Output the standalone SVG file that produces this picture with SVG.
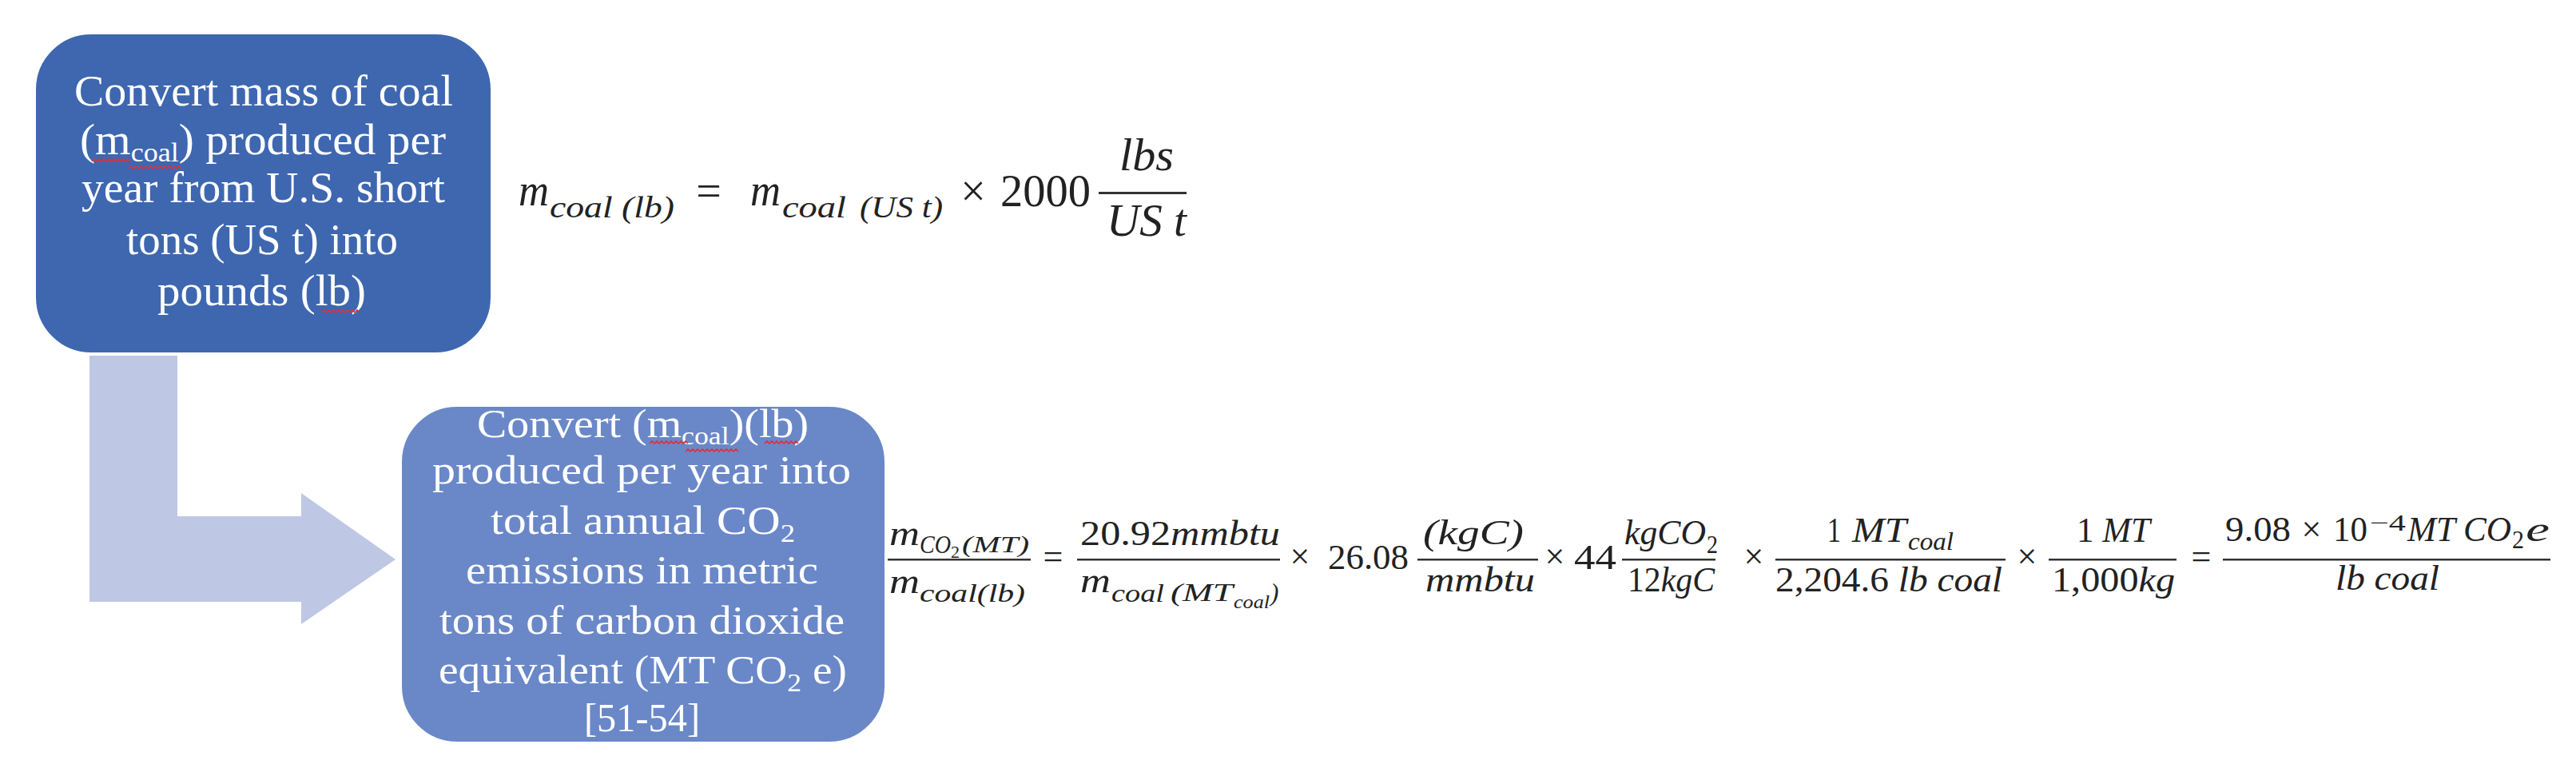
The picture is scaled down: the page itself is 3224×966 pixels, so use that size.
<svg xmlns="http://www.w3.org/2000/svg" width="3224" height="966" viewBox="0 0 3224 966">
<defs>
<style>
.bg{fill:#ffffff}
.box1{fill:#3E67B0;stroke:#ffffff;stroke-width:2}
.box2{fill:#6A88C8;stroke:#ffffff;stroke-width:2}
.arr{fill:#BEC8E4}
.bt{font-family:"Liberation Serif","Times New Roman",serif;fill:#ffffff}
.b1{font-size:54px}
.b2{font-size:50px}
.sq{fill:none;stroke:#E0303A;stroke-width:1.6}
.mi{font-family:"Liberation Serif","Times New Roman",serif;font-style:italic;fill:#222222}
.mu{font-family:"Liberation Serif","Times New Roman",serif;fill:#222222}
.bar{fill:#333333}
</style>
</defs>
<rect class="bg" x="0" y="0" width="3224" height="966"/>

<g id="connectors">
<polygon class="arr" points="112,445 222,445 222,646 377,646 377,617 495,700 377,781 377,753 112,753"/>
</g>

<g id="node1">
<rect class="box1" x="44" y="42" width="571" height="400" rx="70" ry="70"/>
<text class="bt b1" x="93" y="132" textLength="474" lengthAdjust="spacingAndGlyphs">Convert mass of coal</text>
<text class="bt b1" x="100" y="193" textLength="458" lengthAdjust="spacingAndGlyphs">(m<tspan font-size="34" dy="9">coal</tspan><tspan dy="-9">) produced per</tspan></text>
<text class="bt b1" x="102" y="253" textLength="455" lengthAdjust="spacingAndGlyphs">year from U.S. short</text>
<text class="bt b1" x="158" y="318" textLength="340" lengthAdjust="spacingAndGlyphs">tons (US t) into</text>
<text class="bt b1" x="197" y="382" textLength="261" lengthAdjust="spacingAndGlyphs">pounds (lb)</text>
<path class="sq" d="M115,202 l3,-3 3,3 3,-3 3,3 3,-3 3,3 3,-3 3,3 3,-3 3,3 3,-3 3,3 3,-3 3,3 3,-3 3,3"/>
<path class="sq" d="M161,211 l3,-3 3,3 3,-3 3,3 3,-3 3,3 3,-3 3,3 3,-3 3,3 3,-3 3,3 3,-3 3,3 3,-3 3,3 3,-3 3,3 3,-3 3,3 3,-3 3,3"/>
<path class="sq" d="M402,391 l3,-3 3,3 3,-3 3,3 3,-3 3,3 3,-3 3,3 3,-3 3,3 3,-3 3,3 3,-3 3,3 3,-3 3,3"/>
</g>

<g id="node2">
<rect class="box2" x="502" y="508" width="606" height="421" rx="70" ry="70"/>
<text class="bt b2" x="597" y="547" textLength="415" lengthAdjust="spacingAndGlyphs">Convert (m<tspan font-size="32" dy="9">coal</tspan><tspan dy="-9">)(lb)</tspan></text>
<text class="bt b2" x="541" y="605" textLength="524" lengthAdjust="spacingAndGlyphs">produced per year into</text>
<text class="bt b2" x="614" y="668" textLength="381" lengthAdjust="spacingAndGlyphs">total annual CO<tspan font-size="32" dy="10">2</tspan></text>
<text class="bt b2" x="583" y="730" textLength="441" lengthAdjust="spacingAndGlyphs">emissions in metric</text>
<text class="bt b2" x="550" y="793" textLength="507" lengthAdjust="spacingAndGlyphs">tons of carbon dioxide</text>
<text class="bt b2" x="549" y="855" textLength="511" lengthAdjust="spacingAndGlyphs">equivalent (MT CO<tspan font-size="32" dy="10">2</tspan><tspan dy="-10"> e)</tspan></text>
<text class="bt b2" x="731" y="915" textLength="145" lengthAdjust="spacingAndGlyphs">[51-54]</text>
<path class="sq" d="M813,555 l3,-3 3,3 3,-3 3,3 3,-3 3,3 3,-3 3,3 3,-3 3,3 3,-3 3,3 3,-3 3,3 3,-3 3,3"/>
<path class="sq" d="M858,565 l3,-3 3,3 3,-3 3,3 3,-3 3,3 3,-3 3,3 3,-3 3,3 3,-3 3,3 3,-3 3,3 3,-3 3,3 3,-3 3,3 3,-3 3,3 3,-3 3,3"/>
<path class="sq" d="M957,555 l3,-3 3,3 3,-3 3,3 3,-3 3,3 3,-3 3,3 3,-3 3,3 3,-3 3,3 3,-3 3,3"/>
</g>

<g id="formula1">
<text class="mi" x="649" y="257" font-size="56" textLength="38" lengthAdjust="spacingAndGlyphs">m</text>
<text class="mi" x="688" y="272" font-size="38" textLength="156" lengthAdjust="spacingAndGlyphs">coal (lb)</text>
<text class="mu" x="887" y="258" font-size="56" text-anchor="middle">=</text>
<text class="mi" x="939" y="257" font-size="56" textLength="38" lengthAdjust="spacingAndGlyphs">m</text>
<text class="mi" x="979" y="272" font-size="38" textLength="80" lengthAdjust="spacingAndGlyphs">coal</text>
<text class="mi" x="1076" y="272" font-size="38" textLength="104" lengthAdjust="spacingAndGlyphs">(US t)</text>
<text class="mu" x="1218" y="258" font-size="56" text-anchor="middle">×</text>
<text class="mu" x="1252" y="258" font-size="56" textLength="113" lengthAdjust="spacingAndGlyphs">2000</text>
<rect class="bar" x="1375" y="240" width="110" height="3"/>
<text class="mi" x="1401" y="213" font-size="56" textLength="68" lengthAdjust="spacingAndGlyphs">lbs</text>
<text class="mi" x="1385" y="295" font-size="56" textLength="100" lengthAdjust="spacingAndGlyphs">US t</text>
</g>

<g id="formula2">
<!-- fraction 1 -->
<text class="mi" x="1113" y="682" font-size="44" textLength="38" lengthAdjust="spacingAndGlyphs">m</text>
<text class="mi" x="1151" y="692" font-size="31" textLength="39" lengthAdjust="spacingAndGlyphs">CO</text>
<text class="mu" x="1190" y="698" font-size="22" textLength="11" lengthAdjust="spacingAndGlyphs">2</text>
<text class="mi" x="1204" y="691" font-size="29" textLength="84" lengthAdjust="spacingAndGlyphs">(MT)</text>
<rect class="bar" x="1111" y="699" width="179" height="2.5"/>
<text class="mi" x="1113" y="742" font-size="44" textLength="38" lengthAdjust="spacingAndGlyphs">m</text>
<text class="mi" x="1151" y="753" font-size="31" textLength="132" lengthAdjust="spacingAndGlyphs">coal(lb)</text>
<text class="mu" x="1318" y="711" font-size="44" text-anchor="middle">=</text>
<!-- fraction 2 -->
<text class="mi" x="1352" y="682" font-size="44" textLength="250" lengthAdjust="spacingAndGlyphs"><tspan font-style="normal">20.92</tspan>mmbtu</text>
<rect class="bar" x="1348" y="699" width="254" height="2.5"/>
<text class="mi" x="1352" y="741" font-size="44" textLength="38" lengthAdjust="spacingAndGlyphs">m</text>
<text class="mi" x="1391" y="753" font-size="31" textLength="66" lengthAdjust="spacingAndGlyphs">coal</text>
<text class="mi" x="1465" y="752" font-size="31" textLength="78" lengthAdjust="spacingAndGlyphs">(MT</text>
<text class="mi" x="1544" y="761" font-size="23" textLength="45" lengthAdjust="spacingAndGlyphs">coal</text>
<text class="mi" x="1590" y="752" font-size="31">)</text>
<text class="mu" x="1627" y="711" font-size="44" text-anchor="middle">×</text>
<text class="mu" x="1662" y="712" font-size="44" textLength="101" lengthAdjust="spacingAndGlyphs">26.08</text>
<!-- fraction 3 -->
<text class="mi" x="1781" y="681" font-size="44" textLength="126" lengthAdjust="spacingAndGlyphs">(kgC)</text>
<rect class="bar" x="1774" y="699" width="151" height="2.5"/>
<text class="mi" x="1784" y="740" font-size="44" textLength="137" lengthAdjust="spacingAndGlyphs">mmbtu</text>
<text class="mu" x="1946" y="711" font-size="44" text-anchor="middle">×</text>
<text class="mu" x="1970" y="712" font-size="44" textLength="53" lengthAdjust="spacingAndGlyphs">44</text>
<!-- fraction 4 -->
<text class="mi" x="2033" y="681" font-size="44" textLength="102" lengthAdjust="spacingAndGlyphs">kgCO</text>
<text class="mu" x="2136" y="692" font-size="31" textLength="14" lengthAdjust="spacingAndGlyphs">2</text>
<rect class="bar" x="2030" y="699" width="117" height="2.5"/>
<text class="mi" x="2037" y="740" font-size="44" textLength="109" lengthAdjust="spacingAndGlyphs"><tspan font-style="normal">12</tspan>kgC</text>
<text class="mu" x="2195" y="711" font-size="44" text-anchor="middle">×</text>
<!-- fraction 5 -->
<text class="mu" x="2287" y="678" font-size="44" textLength="17" lengthAdjust="spacingAndGlyphs">1</text>
<text class="mi" x="2318" y="678" font-size="44" textLength="68" lengthAdjust="spacingAndGlyphs">MT</text>
<text class="mi" x="2388" y="688" font-size="31" textLength="57" lengthAdjust="spacingAndGlyphs">coal</text>
<rect class="bar" x="2222" y="699" width="288" height="2.5"/>
<text class="mi" x="2222" y="740" font-size="44" textLength="284" lengthAdjust="spacingAndGlyphs"><tspan font-style="normal">2,204.6</tspan> lb coal</text>
<text class="mu" x="2537" y="711" font-size="44" text-anchor="middle">×</text>
<!-- fraction 6 -->
<text class="mi" x="2599" y="678" font-size="44" textLength="92" lengthAdjust="spacingAndGlyphs"><tspan font-style="normal">1</tspan> MT</text>
<rect class="bar" x="2564" y="699" width="160" height="2.5"/>
<text class="mi" x="2568" y="740" font-size="44" textLength="154" lengthAdjust="spacingAndGlyphs"><tspan font-style="normal">1,000</tspan>kg</text>
<text class="mu" x="2755" y="711" font-size="44" text-anchor="middle">=</text>
<!-- fraction 7 -->
<text class="mu" x="2785" y="677" font-size="44" textLength="82" lengthAdjust="spacingAndGlyphs">9.08</text>
<text class="mu" x="2893" y="677" font-size="44" text-anchor="middle">×</text>
<text class="mu" x="2920" y="677" font-size="44" textLength="43" lengthAdjust="spacingAndGlyphs">10</text>
<text class="mu" x="2966" y="664" font-size="29" textLength="45" lengthAdjust="spacingAndGlyphs">−4</text>
<text class="mi" x="3013" y="677" font-size="44" textLength="60" lengthAdjust="spacingAndGlyphs">MT</text>
<text class="mi" x="3083" y="677" font-size="44" textLength="60" lengthAdjust="spacingAndGlyphs">CO</text>
<text class="mu" x="3144" y="686" font-size="31" textLength="15" lengthAdjust="spacingAndGlyphs">2</text>
<text class="mi" x="3161" y="677" font-size="44" textLength="30" lengthAdjust="spacingAndGlyphs">e</text>
<rect class="bar" x="2782" y="699" width="410" height="2.5"/>
<text class="mi" x="2923" y="738" font-size="44" textLength="130" lengthAdjust="spacingAndGlyphs">lb coal</text>
</g>
</svg>
